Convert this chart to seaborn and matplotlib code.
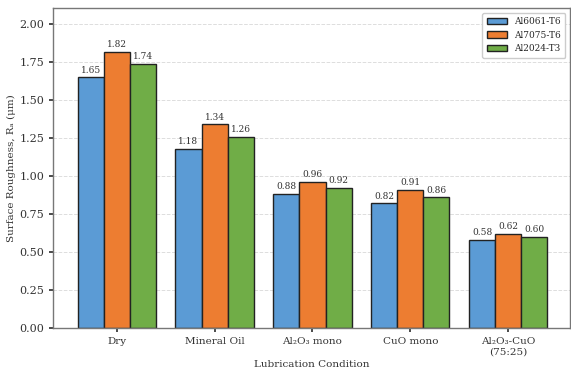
import pandas as pd
import seaborn as sns
import matplotlib.pyplot as plt

conditions = ['Dry', 'Mineral Oil', 'Al₂O₃ mono', 'CuO mono', 'Al₂O₃-CuO\n(75:25)']
alloys = ['Al6061-T6', 'Al7075-T6', 'Al2024-T3']
al6061 = [1.65, 1.18, 0.88, 0.82, 0.58]
al7075 = [1.82, 1.34, 0.96, 0.91, 0.62]
al2024 = [1.74, 1.26, 0.92, 0.86, 0.60]
colors = ['#5B9BD5', '#ED7D31', '#70AD47']

df = pd.DataFrame({
    'condition': conditions * 3,
    'alloy': [a for a in alloys for _ in conditions],
    'ra': al6061 + al7075 + al2024,
})

sns.set_theme(style="whitegrid")
plt.rcParams['font.family'] = ['DejaVu Serif', 'DejaVu Sans']

fig = plt.figure(figsize=(5.71, 3.76), dpi=100)
ax = fig.add_axes([0.093, 0.128, 0.905, 0.85])

sns.barplot(
    data=df, x='condition', y='ra', hue='alloy',
    palette=colors, edgecolor='#222222', linewidth=1.0,
    saturation=1, ax=ax,
)

for c in ax.containers:
    ax.bar_label(c, fmt='%.2f', padding=2, fontsize=6.5, color='#333333')

ax.set_xlim(-0.65, 4.63)
ax.set_ylim(0, 2.105)
ax.set_yticks([0, 0.25, 0.5, 0.75, 1.0, 1.25, 1.5, 1.75, 2.0])
ax.set_yticklabels([f'{v:.2f}' for v in ax.get_yticks()])
ax.set_xlabel('Lubrication Condition', fontsize=7.5, color='#333333', labelpad=3)
ax.set_ylabel('Surface Roughness, Rₐ (μm)', fontsize=7.5, color='#333333', labelpad=2)
ax.tick_params(axis='y', labelsize=8, colors='#333333', length=3, left=True)
ax.tick_params(axis='x', labelsize=7.5, colors='#333333', length=3, bottom=True)
ax.grid(axis='y', linestyle='--', color='#dddddd', linewidth=0.7)
ax.grid(axis='x', visible=False)
ax.set_facecolor('white')
for s in ax.spines.values():
    s.set_color('#777777')
    s.set_linewidth(1.0)

leg = ax.legend(loc='upper right', fontsize=6.5, frameon=True, framealpha=1,
                edgecolor='#cccccc', handlelength=2.2, borderpad=0.5)
leg.set_title(None)

fig.savefig('out.png', dpi=100)
